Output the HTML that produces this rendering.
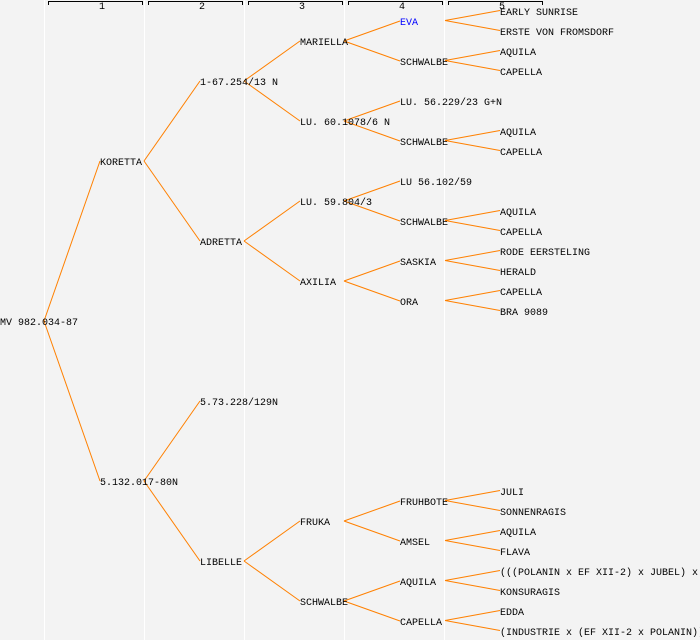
<!DOCTYPE html>
<html><head><meta charset="utf-8"><style>
html,body{margin:0;padding:0;background:#f3f3f3;}
svg{display:block;}
text{font-family:"Liberation Mono",monospace;font-size:10px;fill:#000;}
</style></head><body>
<svg width="700" height="640" viewBox="0 0 700 640" xmlns="http://www.w3.org/2000/svg">
<rect width="700" height="640" fill="#f3f3f3"/>
<g stroke="#ffffff" stroke-width="1">
<line x1="44.5" y1="0" x2="44.5" y2="640"/>
<line x1="144.5" y1="0" x2="144.5" y2="640"/>
<line x1="244.5" y1="0" x2="244.5" y2="640"/>
<line x1="344.5" y1="0" x2="344.5" y2="640"/>
<line x1="444.5" y1="0" x2="444.5" y2="640"/>
</g>
<g stroke="#000" stroke-width="1" fill="none">
<path d="M48.5 5V1.5H142.5V5"/>
<path d="M148.5 5V1.5H242.5V5"/>
<path d="M248.5 5V1.5H342.5V5"/>
<path d="M348.5 5V1.5H442.5V5"/>
<path d="M448.5 5V1.5H542.5V5"/>
</g>
<g style="font-size:8px">
<text x="99" y="9">1</text><text x="199" y="9">2</text><text x="299" y="9">3</text><text x="399" y="9">4</text><text x="499" y="9">5</text>
</g>
<g stroke="#ff8000" stroke-width="1" fill="none">
<line x1="44" y1="321" x2="100" y2="161"/>
<line x1="44" y1="321" x2="100" y2="481"/>
<line x1="144" y1="161" x2="200" y2="81"/>
<line x1="144" y1="161" x2="200" y2="241"/>
<line x1="144" y1="481" x2="200" y2="401"/>
<line x1="144" y1="481" x2="200" y2="561"/>
<line x1="244" y1="81" x2="300" y2="41"/>
<line x1="244" y1="81" x2="300" y2="121"/>
<line x1="244" y1="241" x2="300" y2="201"/>
<line x1="244" y1="241" x2="300" y2="281"/>
<line x1="244" y1="561" x2="300" y2="521"/>
<line x1="244" y1="561" x2="300" y2="601"/>
<line x1="344" y1="41" x2="400" y2="21"/>
<line x1="344" y1="41" x2="400" y2="61"/>
<line x1="344" y1="121" x2="400" y2="101"/>
<line x1="344" y1="121" x2="400" y2="141"/>
<line x1="344" y1="201" x2="400" y2="181"/>
<line x1="344" y1="201" x2="400" y2="221"/>
<line x1="344" y1="281" x2="400" y2="261"/>
<line x1="344" y1="281" x2="400" y2="301"/>
<line x1="344" y1="521" x2="400" y2="501"/>
<line x1="344" y1="521" x2="400" y2="541"/>
<line x1="344" y1="601" x2="400" y2="581"/>
<line x1="344" y1="601" x2="400" y2="621"/>
<line x1="445" y1="20.5" x2="500" y2="10.5"/>
<line x1="445" y1="20.5" x2="500" y2="30.5"/>
<line x1="445" y1="60.5" x2="500" y2="50.5"/>
<line x1="445" y1="60.5" x2="500" y2="70.5"/>
<line x1="445" y1="140.5" x2="500" y2="130.5"/>
<line x1="445" y1="140.5" x2="500" y2="150.5"/>
<line x1="445" y1="220.5" x2="500" y2="210.5"/>
<line x1="445" y1="220.5" x2="500" y2="230.5"/>
<line x1="445" y1="260.5" x2="500" y2="250.5"/>
<line x1="445" y1="260.5" x2="500" y2="270.5"/>
<line x1="445" y1="300.5" x2="500" y2="290.5"/>
<line x1="445" y1="300.5" x2="500" y2="310.5"/>
<line x1="445" y1="500.5" x2="500" y2="490.5"/>
<line x1="445" y1="500.5" x2="500" y2="510.5"/>
<line x1="445" y1="540.5" x2="500" y2="530.5"/>
<line x1="445" y1="540.5" x2="500" y2="550.5"/>
<line x1="445" y1="580.5" x2="500" y2="570.5"/>
<line x1="445" y1="580.5" x2="500" y2="590.5"/>
<line x1="445" y1="620.5" x2="500" y2="610.5"/>
<line x1="445" y1="620.5" x2="500" y2="630.5"/>
</g>
<g>
<text x="0" y="325">MV 982.034-87</text>
<text x="100" y="165">KORETTA</text>
<text x="100" y="485">5.132.017-80N</text>
<text x="200" y="85">1-67.254/13 N</text>
<text x="200" y="245">ADRETTA</text>
<text x="200" y="405">5.73.228/129N</text>
<text x="200" y="565">LIBELLE</text>
<text x="300" y="45">MARIELLA</text>
<text x="300" y="125">LU. 60.1078/6 N</text>
<text x="300" y="205">LU. 59.804/3</text>
<text x="300" y="285">AXILIA</text>
<text x="300" y="525">FRUKA</text>
<text x="300" y="605">SCHWALBE</text>
<text x="400" y="25" style="fill:#0000ff">EVA</text>
<text x="400" y="65">SCHWALBE</text>
<text x="400" y="105">LU. 56.229/23 G+N</text>
<text x="400" y="145">SCHWALBE</text>
<text x="400" y="185">LU 56.102/59</text>
<text x="400" y="225">SCHWALBE</text>
<text x="400" y="265">SASKIA</text>
<text x="400" y="305">ORA</text>
<text x="400" y="505">FRUHBOTE</text>
<text x="400" y="545">AMSEL</text>
<text x="400" y="585">AQUILA</text>
<text x="400" y="625">CAPELLA</text>
<text x="500" y="15">EARLY SUNRISE</text>
<text x="500" y="35">ERSTE VON FROMSDORF</text>
<text x="500" y="55">AQUILA</text>
<text x="500" y="75">CAPELLA</text>
<text x="500" y="135">AQUILA</text>
<text x="500" y="155">CAPELLA</text>
<text x="500" y="215">AQUILA</text>
<text x="500" y="235">CAPELLA</text>
<text x="500" y="255">RODE EERSTELING</text>
<text x="500" y="275">HERALD</text>
<text x="500" y="295">CAPELLA</text>
<text x="500" y="315">BRA 9089</text>
<text x="500" y="495">JULI</text>
<text x="500" y="515">SONNENRAGIS</text>
<text x="500" y="535">AQUILA</text>
<text x="500" y="555">FLAVA</text>
<text x="500" y="575">(((POLANIN x EF XII-2) x JUBEL) x</text>
<text x="500" y="595">KONSURAGIS</text>
<text x="500" y="615">EDDA</text>
<text x="500" y="635">(INDUSTRIE x (EF XII-2 x POLANIN))</text>
</g>
</svg>
</body></html>
